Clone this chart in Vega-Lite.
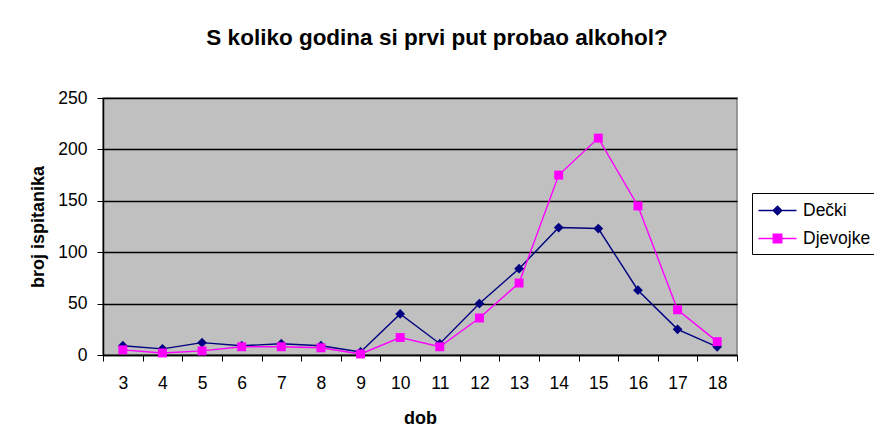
{
  "$schema": "https://vega.github.io/schema/vega-lite/v6.json",
  "autosize": "none",
  "width": 634,
  "height": 257,
  "padding": {"left": 103, "top": 98, "right": 137, "bottom": 88},
  "background": "white",
  "title": {
    "text": "S koliko godina si prvi put probao alkohol?",
    "font": "Liberation Sans",
    "fontSize": 22.5,
    "fontWeight": "bold",
    "color": "black",
    "anchor": "middle",
    "frame": "group",
    "dx": 17,
    "offset": 40
  },
  "config": {
    "view": {"fill": "#C0C0C0", "stroke": "#808080", "strokeWidth": 1.5},
    "font": "Liberation Sans"
  },
  "data": {
    "values": [
      {"dob": 3, "skupina": "Dečki", "broj": 9},
      {"dob": 4, "skupina": "Dečki", "broj": 6},
      {"dob": 5, "skupina": "Dečki", "broj": 12},
      {"dob": 6, "skupina": "Dečki", "broj": 9},
      {"dob": 7, "skupina": "Dečki", "broj": 11},
      {"dob": 8, "skupina": "Dečki", "broj": 9},
      {"dob": 9, "skupina": "Dečki", "broj": 3},
      {"dob": 10, "skupina": "Dečki", "broj": 40},
      {"dob": 11, "skupina": "Dečki", "broj": 11},
      {"dob": 12, "skupina": "Dečki", "broj": 50},
      {"dob": 13, "skupina": "Dečki", "broj": 84},
      {"dob": 14, "skupina": "Dečki", "broj": 124},
      {"dob": 15, "skupina": "Dečki", "broj": 123},
      {"dob": 16, "skupina": "Dečki", "broj": 63},
      {"dob": 17, "skupina": "Dečki", "broj": 25},
      {"dob": 18, "skupina": "Dečki", "broj": 8},
      {"dob": 3, "skupina": "Djevojke", "broj": 5},
      {"dob": 4, "skupina": "Djevojke", "broj": 2},
      {"dob": 5, "skupina": "Djevojke", "broj": 4},
      {"dob": 6, "skupina": "Djevojke", "broj": 8},
      {"dob": 7, "skupina": "Djevojke", "broj": 8},
      {"dob": 8, "skupina": "Djevojke", "broj": 7},
      {"dob": 9, "skupina": "Djevojke", "broj": 1},
      {"dob": 10, "skupina": "Djevojke", "broj": 17},
      {"dob": 11, "skupina": "Djevojke", "broj": 8},
      {"dob": 12, "skupina": "Djevojke", "broj": 36},
      {"dob": 13, "skupina": "Djevojke", "broj": 70},
      {"dob": 14, "skupina": "Djevojke", "broj": 175},
      {"dob": 15, "skupina": "Djevojke", "broj": 211},
      {"dob": 16, "skupina": "Djevojke", "broj": 145},
      {"dob": 17, "skupina": "Djevojke", "broj": 44},
      {"dob": 18, "skupina": "Djevojke", "broj": 13}
    ]
  },
  "encoding": {
    "x": {
      "field": "dob",
      "type": "ordinal",
      "scale": {"type": "band", "paddingInner": 0, "paddingOuter": 0},
      "axis": {
        "title": "dob",
        "labelAngle": 0,
        "tickBand": "extent",
        "domainColor": "black",
        "domainWidth": 1.5,
        "tickColor": "black",
        "tickSize": 6,
        "labelPadding": 13,
        "labelFontSize": 17.5,
        "labelColor": "black",
        "titleFontSize": 18,
        "titleFontWeight": "bold",
        "titleColor": "black",
        "titlePadding": 18
      }
    },
    "y": {
      "field": "broj",
      "type": "quantitative",
      "scale": {"domain": [0, 250], "nice": false},
      "axis": {
        "title": "broj ispitanika",
        "values": [0, 50, 100, 150, 200, 250],
        "grid": true,
        "gridColor": "black",
        "gridOpacity": 1,
        "gridWidth": 1.5,
        "domainColor": "black",
        "domainWidth": 1.5,
        "tickColor": "black",
        "tickSize": 6,
        "labelPadding": 10,
        "labelFontSize": 17.5,
        "labelColor": "black",
        "titleFontSize": 18,
        "titleFontWeight": "bold",
        "titleColor": "black",
        "titlePadding": 10
      }
    }
  },
  "layer": [
    {
      "mark": {"type": "line", "strokeWidth": 1.4},
      "encoding": {
        "color": {
          "field": "skupina",
          "type": "nominal",
          "scale": {"domain": ["Dečki", "Djevojke"], "range": ["#000080", "#FF00FF"]},
          "legend": {
            "title": null,
            "orient": "none",
            "legendX": 649,
            "legendY": 95,
            "strokeColor": "black",
            "fillColor": "white",
            "padding": 7,
            "symbolSize": 361,
            "symbolOffset": 8,
            "symbolStrokeWidth": 1.4,
            "labelFontSize": 17.5,
            "labelColor": "black",
            "labelOffset": 15,
            "rowPadding": 9,
            "encode": {
              "symbols": {
                "update": {
                  "shape": {"signal": "datum.value === 'Dečki' ? 'M-2,0H2M-0.45,0L0,-0.45L0.45,0L0,0.45Z' : 'M-2,0H2M-0.45,-0.45H0.45V0.45H-0.45Z'"},
                  "fill": {"signal": "datum.value === 'Dečki' ? '#000080' : '#FF00FF'"},
                  "stroke": {"signal": "datum.value === 'Dečki' ? '#000080' : '#FF00FF'"}
                }
              }
            }
          }
        }
      }
    },
    {
      "transform": [{"filter": "datum.skupina === 'Dečki'"}],
      "mark": {"type": "point", "shape": "diamond", "filled": true, "size": 95, "color": "#000080", "opacity": 1}
    },
    {
      "transform": [{"filter": "datum.skupina === 'Djevojke'"}],
      "mark": {"type": "point", "shape": "square", "filled": true, "size": 80, "color": "#FF00FF", "opacity": 1}
    }
  ]
}
